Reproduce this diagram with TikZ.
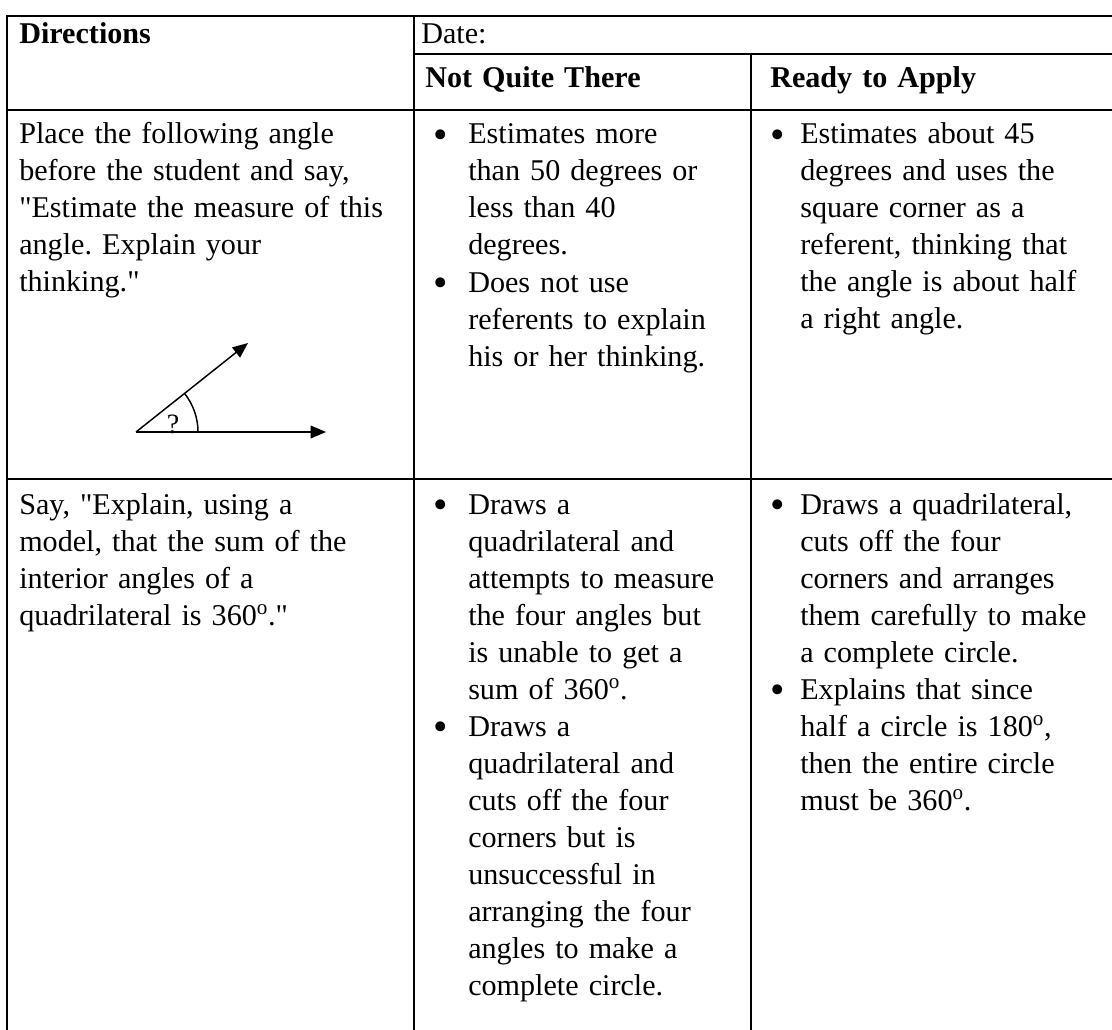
\documentclass[tikz,border=0pt]{standalone}
\usepackage{fontspec}
\setmainfont{Liberation Serif}
\usetikzlibrary{arrows.meta, angles, positioning}

\newcommand{\CellFont}{\fontsize{22.6pt}{27.75pt}\selectfont}
\newcommand{\Qt}{\textquotedbl}
\frenchspacing

\begin{document}
\begin{tikzpicture}
	[x=0.75pt, y=-0.75pt,
	 Rule/.style={line width=1.7pt, line cap=rect},			%Lines of the table
	 Cell/.style={anchor=base west, inner sep=0pt, align=left, text width=350pt, font=\CellFont},	%Text of a cell, placed at its first baseline
	 Dot/.style={anchor=base, inner sep=0pt, yshift=-3.5pt, font=\fontsize{31pt}{31pt}\selectfont},	%List bullet
	 Ray/.style={line width=1.1pt, -{Triangle[length=11.5pt, width=9.5pt]}}
	]
	
	\def\Lsk{37}		%Line spacing in px
	\def\RowA{144}		%First baseline of row 1
	\def\RowB{514}		%First baseline of row 2
	
	\useasboundingbox (0,0) rectangle (1112,1030);
	
	\draw[Rule] (7,16) -- (1112,16);		%Top line
	\draw[Rule] (414,54) -- (1112,54);		%Line under Date
	\draw[Rule] (7,110) -- (1112,110);
	\draw[Rule] (7,479) -- (1112,479);
	\draw[Rule] (7,16) -- (7,1030);
	\draw[Rule] (414,16) -- (414,1030);
	\draw[Rule] (751,54) -- (751,1030);
	
	\node[Cell, font=\CellFont\bfseries] (dir) at (19,44) {Directions};
	\node[Cell] (date) at (421,44) {Date:};
	\node[Cell, font=\CellFont\bfseries] (nq) at (425,88) {Not Quite There};
	\node[Cell, font=\CellFont\bfseries] (ra) at (770,88) {Ready to Apply};
	
	%Row 1
	\node[Cell] (dirA) at (19,\RowA) {Place the following angle\\before the student and say,\\\Qt Estimate the measure of this\\angle. Explain your\\thinking.\Qt};
	\node[Dot] (bA1) at (441,\RowA) {\textbullet};
	\node[Cell] (nqA1) at (468,\RowA) {Estimates more\\than 50 degrees or\\less than 40\\degrees.};
	\node[Dot] (bA2) at (441,{\RowA+4*\Lsk}) {\textbullet};
	\node[Cell] (nqA2) at (468,{\RowA+4*\Lsk}) {Does not use\\referents to explain\\his or her thinking.};
	\node[Dot] (bA3) at (778,\RowA) {\textbullet};
	\node[Cell] (raA1) at (800,\RowA) {Estimates about 45\\degrees and uses the\\square corner as a\\referent, thinking that\\the angle is about half\\a right angle.};
	
	%Angle to estimate
	\coordinate (vtx) at (136,432);
	\coordinate (tipA) at (248,343);
	\coordinate (tipB) at (326,432);
	\draw[Ray] (vtx) -- (tipA);
	\draw[Ray] (vtx) -- (tipB);
	\pic[draw, line width=1.1pt, angle radius=46.5pt] {angle=tipB--vtx--tipA};
	\node[anchor=base, inner sep=0pt, font=\fontsize{21pt}{21pt}\selectfont] (qm) at (173,433) {?};
	
	%Row 2
	\node[Cell] (dirB) at (19,\RowB) {Say, \Qt Explain, using a\\model, that the sum of the\\interior angles of a\\quadrilateral is 360\textsuperscript{o}.\Qt};
	\node[Dot] (bB1) at (441,\RowB) {\textbullet};
	\node[Cell] (nqB1) at (468,\RowB) {Draws a\\quadrilateral and\\attempts to measure\\the four angles but\\is unable to get a\\sum of 360\textsuperscript{o}.};
	\node[Dot] (bB2) at (441,{\RowB+6*\Lsk}) {\textbullet};
	\node[Cell] (nqB2) at (468,{\RowB+6*\Lsk}) {Draws a\\quadrilateral and\\cuts off the four\\corners but is\\unsuccessful in\\arranging the four\\angles to make a\\complete circle.};
	\node[Dot] (bB3) at (778,\RowB) {\textbullet};
	\node[Cell] (raB1) at (800,\RowB) {Draws a quadrilateral,\\cuts off the four\\corners and arranges\\them carefully to make\\a complete circle.};
	\node[Dot] (bB4) at (778,{\RowB+5*\Lsk}) {\textbullet};
	\node[Cell] (raB2) at (800,{\RowB+5*\Lsk}) {Explains that since\\half a circle is 180\textsuperscript{o},\\then the entire circle\\must be 360\textsuperscript{o}.};
	
\end{tikzpicture}
\end{document}
